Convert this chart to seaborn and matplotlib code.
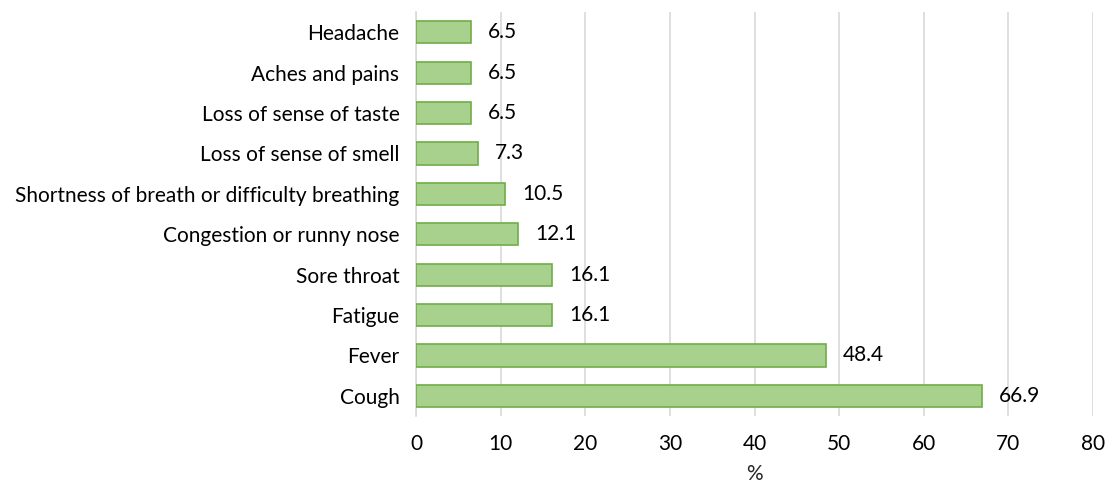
"""Symptom prevalence bar chart."""

import matplotlib.pyplot as plt
import pandas as pd
import seaborn as sns

symptoms = [
    "Headache",
    "Aches and pains",
    "Loss of sense of taste",
    "Loss of sense of smell",
    "Shortness of breath or difficulty breathing",
    "Congestion or runny nose",
    "Sore throat",
    "Fatigue",
    "Fever",
    "Cough",
]
percent = [6.5, 6.5, 6.5, 7.3, 10.5, 12.1, 16.1, 16.1, 48.4, 66.9]

sns.set_style("white")
plt.rcParams["font.family"] = ["Lato", "DejaVu Sans"]

df = pd.DataFrame({"symptom": symptoms, "percent": percent})

fig = plt.figure(figsize=(11.08, 4.84), dpi=100)
ax = fig.add_axes([0.3755, 0.1405, 0.611, 0.8345])

sns.barplot(
    data=df,
    x="percent",
    y="symptom",
    orient="h",
    color="#A9D18E",
    edgecolor="#70AD47",
    linewidth=1.2,
    width=0.55,
    saturation=1,
    ax=ax,
    zorder=3,
)

for i, v in enumerate(percent):
    ax.text(v + 2.0, i, f"{v:.1f}", va="center", ha="left", fontsize=15, color="#000000")

ax.set_xlim(0, 80)
ax.set_xticks(range(0, 81, 10))
ax.grid(True, axis="x", color="#D9D9D9", linewidth=1.2, zorder=0)
ax.grid(False, axis="y")
for side in ["top", "right", "bottom"]:
    ax.spines[side].set_visible(False)
ax.spines["left"].set_color("#D9D9D9")
ax.spines["left"].set_linewidth(1.2)
ax.tick_params(axis="both", length=0, labelsize=15, colors="#000000")
ax.tick_params(axis="x", pad=13)
ax.tick_params(axis="y", pad=12)
ax.set_ylabel("")
ax.set_xlabel("%", fontsize=15, labelpad=7)

fig.savefig("out.png", dpi=100)
plt.close(fig)
